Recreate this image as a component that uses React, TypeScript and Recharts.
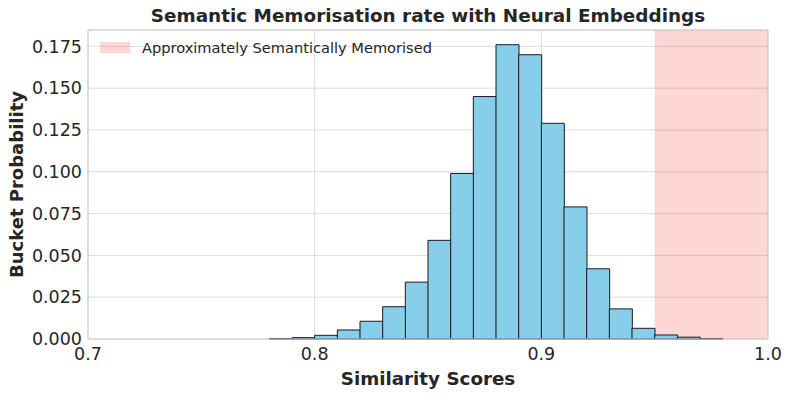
import {
  ComposedChart,
  Bar,
  XAxis,
  YAxis,
  CartesianGrid,
  ReferenceArea,
  ReferenceLine,
} from "recharts";

// histogram bins (centre of each 0.01 wide bucket) and their probabilities
const binCentres = [
  0.785, 0.795, 0.805, 0.815, 0.825, 0.835, 0.845, 0.855, 0.865, 0.875,
  0.885, 0.895, 0.905, 0.915, 0.925, 0.935, 0.945, 0.955, 0.965, 0.975,
];
const probabilities = [
  0.0002, 0.0008, 0.0022, 0.0054, 0.0106, 0.0193, 0.034, 0.059, 0.099,
  0.145, 0.176, 0.17, 0.129, 0.079, 0.042, 0.018, 0.0064, 0.0024, 0.0011,
  0.0003,
];
const xTicks = [0.7, 0.8, 0.9, 1.0];
const yTicks = [0, 0.025, 0.05, 0.075, 0.1, 0.125, 0.15, 0.175];
const memorisedFrom = 0.95;
const memorisedTo = 1.0;
const legendLabel = "Approximately Semantically Memorised";

const data = binCentres.map((x, i) => ({ x, p: probabilities[i] }));
const yMax = 0.1848;

const font = "'DejaVu Sans', sans-serif";
const ink = "#262626";

export default function App() {
  return (
    <div style={{ position: "absolute", left: 0, top: 0, width: 793, height: 397, background: "#fff" }}>
      <ComposedChart
        width={793}
        height={397}
        data={data}
        margin={{ top: 30, right: 25, bottom: 0, left: 0 }}
        barCategoryGap={0}
        barGap={0}
      >
        <CartesianGrid stroke="#dcdcdc" />
        <XAxis
          dataKey="x"
          type="number"
          domain={[0.7, 1.0]}
          ticks={xTicks}
          tickFormatter={(v: number) => v.toFixed(1)}
          height={58}
          tickLine={false}
          axisLine={{ stroke: "#cccccc" }}
          tick={{ fill: ink, fontSize: 17.5, fontFamily: font }}
          tickMargin={3}
          label={{
            value: "Similarity Scores",
            position: "insideBottom",
            offset: 12,
            style: { fill: ink, fontSize: 18.3, fontWeight: "bold", fontFamily: font },
          }}
        />
        <YAxis
          type="number"
          domain={[0, yMax]}
          ticks={yTicks}
          tickFormatter={(v: number) => v.toFixed(3)}
          width={88}
          tickLine={false}
          axisLine={{ stroke: "#cccccc" }}
          tick={{ fill: ink, fontSize: 17.5, fontFamily: font }}
          tickMargin={0}
          label={{
            value: "Bucket Probability",
            angle: -90,
            position: "insideLeft",
            offset: 17,
            style: { textAnchor: "middle", fill: ink, fontSize: 18, fontWeight: "bold", fontFamily: font },
          }}
        />
        <Bar dataKey="p" fill="#87ceeb" stroke="#1a1a1a" strokeWidth={1} isAnimationActive={false} />
        <ReferenceArea x1={memorisedFrom} x2={memorisedTo} fill="red" fillOpacity={0.16} stroke="none" />
        <ReferenceLine y={yMax} stroke="#cccccc" />
        <ReferenceLine x={memorisedTo} stroke="#cccccc" />
      </ComposedChart>
      <div
        style={{
          position: "absolute",
          left: 88,
          width: 680,
          top: 5,
          textAlign: "center",
          fontFamily: font,
          fontWeight: "bold",
          fontSize: 18.4,
          color: ink,
        }}
      >
        Semantic Memorisation rate with Neural Embeddings
      </div>
      <div
        style={{
          position: "absolute",
          left: 100,
          top: 39,
          display: "flex",
          alignItems: "center",
          fontFamily: font,
          fontSize: 14.6,
          color: ink,
        }}
      >
        <span
          style={{ display: "inline-block", width: 30, height: 11, background: "rgba(255,0,0,0.16)", marginRight: 12 }}
        />
        {legendLabel}
      </div>
    </div>
  );
}
